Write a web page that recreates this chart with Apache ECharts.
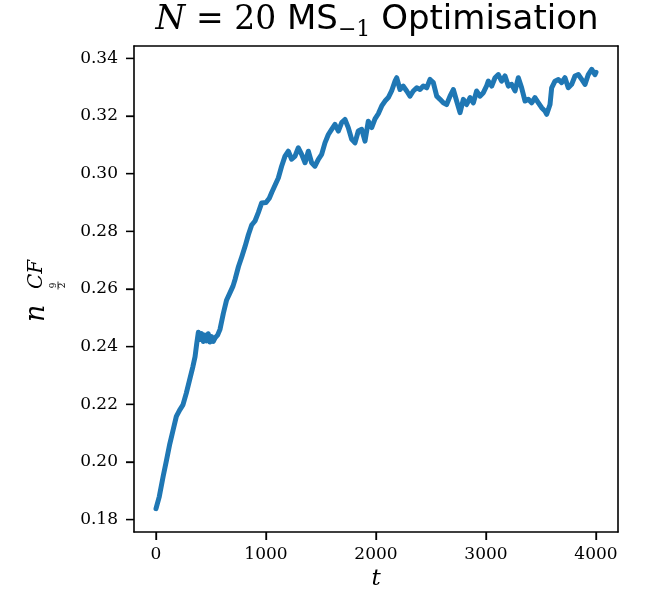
<!DOCTYPE html>
<html>
<head>
<meta charset="utf-8">
<script src="https://cdn.jsdelivr.net/npm/echarts@6/dist/echarts.min.js"></script>
<style>
html,body{margin:0;padding:0;background:#fff;}
#chart{width:651px;height:604px;}
</style>
</head>
<body>
<div id="chart"></div>
<script>
// ---- data ----
const tValues = [0,30,65,95,125,155,185,215,245,275,305,335,355,370,385,400,415,430,445,460,475,490,505,520,540,560,582,612,642,670,700,720,750,780,810,840,870,900,930,960,1000,1030,1052,1082,1112,1142,1173,1203,1233,1264,1294,1324,1355,1385,1415,1445,1476,1506,1536,1567,1597,1627,1658,1688,1718,1748,1779,1809,1839,1870,1900,1930,1961,1991,2021,2052,2082,2112,2142,2173,2188,2218,2248,2279,2309,2339,2370,2400,2430,2461,2491,2521,2552,2582,2612,2642,2673,2703,2733,2764,2794,2824,2855,2885,2915,2945,2976,3006,3021,3052,3082,3112,3142,3173,3203,3233,3264,3294,3324,3355,3385,3415,3445,3476,3506,3536,3552,3582,3597,3627,3658,3688,3718,3748,3779,3809,3839,3870,3900,3930,3961,3991,4000];
const nValues = [0.1838,0.1880,0.1950,0.2005,0.2062,0.2110,0.2158,0.2180,0.2198,0.2238,0.2284,0.2330,0.2365,0.2410,0.2450,0.2425,0.2445,0.2418,0.2440,0.2420,0.2445,0.2416,0.2435,0.2418,0.2432,0.2440,0.2460,0.2515,0.2562,0.2585,0.2610,0.2635,0.2678,0.2712,0.2748,0.2788,0.2822,0.2836,0.2865,0.2898,0.2900,0.2915,0.2935,0.2960,0.2985,0.3026,0.3061,0.3078,0.3050,0.3061,0.3090,0.3067,0.3038,0.3078,0.3038,0.3026,0.3050,0.3067,0.3107,0.3136,0.3154,0.3171,0.3148,0.3177,0.3188,0.3160,0.3119,0.3107,0.3148,0.3154,0.3113,0.3182,0.3160,0.3190,0.3208,0.3235,0.3252,0.3264,0.3287,0.3321,0.3333,0.3292,0.3304,0.3287,0.3269,0.3287,0.3298,0.3292,0.3304,0.3298,0.3327,0.3316,0.3269,0.3258,0.3246,0.3240,0.3269,0.3292,0.3252,0.3212,0.3258,0.3240,0.3264,0.3246,0.3287,0.3269,0.3281,0.3305,0.3321,0.3304,0.3333,0.3344,0.3321,0.3339,0.3304,0.3310,0.3287,0.3333,0.3298,0.3252,0.3258,0.3246,0.3264,0.3246,0.3229,0.3217,0.3206,0.3240,0.3298,0.3321,0.3327,0.3316,0.3333,0.3298,0.3310,0.3339,0.3344,0.3327,0.3310,0.3344,0.3362,0.3344,0.3352];
const xTicks = [0,1000,2000,3000,4000];
const yTicks = [0.18,0.20,0.22,0.24,0.26,0.28,0.30,0.32,0.34];

const SERIF = '"DejaVu Serif", "Liberation Serif", serif';
const SANS = '"DejaVu Sans", "Liberation Sans", sans-serif';
const X_MIN = -200, X_MAX = 4200, Y_MIN = 0.1757, Y_MAX = 0.3443;
const TICK_LEN = 8;

const chart = echarts.init(document.getElementById('chart'), null, {renderer:'canvas'});
const seriesData = tValues.map((t,i)=>[t, nValues[i]]);
const frameLine = () => ({show:true, onZero:false, lineStyle:{color:'#000', width:1.6}});

chart.setOption({
  animation:false,
  backgroundColor:'#fff',
  title:{
    left:372, textAlign:'center', top:-6,
    text:'{a|N} {b|= 20} {c|MS}{d|−1} {c|Optimisation}',
    textStyle:{
      fontSize:34, color:'#000', fontFamily:SERIF, fontWeight:'normal', lineHeight:42,
      rich:{
        a:{fontFamily:SERIF, fontStyle:'italic', fontSize:34, lineHeight:42, color:'#000'},
        b:{fontFamily:SERIF, fontSize:33, lineHeight:42, color:'#000'},
        c:{fontFamily:SANS, fontSize:34, lineHeight:42, color:'#000'},
        d:{fontFamily:SERIF, fontSize:22, lineHeight:22, verticalAlign:'bottom', color:'#000'}
      }
    }
  },
  grid:{left:134, right:33, top:46, bottom:72},
  xAxis:[{
    type:'value', min:X_MIN, max:X_MAX,
    name:'t', nameLocation:'middle', nameGap:30,
    nameTextStyle:{fontFamily:SERIF, fontStyle:'italic', fontSize:23, color:'#000'},
    axisLine:frameLine(),
    axisTick:{show:true, length:TICK_LEN, lineStyle:{color:'#000', width:1.3}, customValues:xTicks},
    axisLabel:{customValues:xTicks, fontFamily:SERIF, fontSize:17, color:'#000', margin:14, formatter:v=>String(v)},
    splitLine:{show:false}
  },{
    type:'value', min:X_MIN, max:X_MAX, position:'top',
    axisLine:frameLine(), axisTick:{show:false}, axisLabel:{show:false}, splitLine:{show:false}
  }],
  yAxis:[{
    type:'value', min:Y_MIN, max:Y_MAX,
    axisLine:frameLine(),
    axisTick:{show:true, length:TICK_LEN, lineStyle:{color:'#000', width:1.3}, customValues:yTicks},
    axisLabel:{customValues:yTicks, fontFamily:SERIF, fontSize:17, color:'#000', margin:16, formatter:v=>v.toFixed(2)},
    splitLine:{show:false}
  },{
    type:'value', min:Y_MIN, max:Y_MAX, position:'right',
    axisLine:frameLine(), axisTick:{show:false}, axisLabel:{show:false}, splitLine:{show:false}
  }],
  graphic:[{
    type:'group', x:44, y:322, rotation:Math.PI/2,
    children:[
      {type:'text', x:0, y:6.5, style:{text:'n', font:'italic 27px "DejaVu Serif"', fill:'#000', verticalAlign:'bottom', align:'left'}},
      {type:'text', x:33, y:3, style:{text:'CF', font:'italic 20px "DejaVu Serif"', fill:'#000', verticalAlign:'bottom', align:'left'}},
      {type:'text', x:36.5, y:10, style:{text:'9', font:'9px "DejaVu Serif"', fill:'#000', verticalAlign:'middle', align:'center'}},
      {type:'line', shape:{x1:32.5, y1:14, x2:40.5, y2:14}, style:{stroke:'#000', lineWidth:0.8}},
      {type:'text', x:36.5, y:18.8, style:{text:'2', font:'9px "DejaVu Serif"', fill:'#000', verticalAlign:'middle', align:'center'}}
    ]
  }],
  series:[{
    type:'line', xAxisIndex:0, yAxisIndex:0, data:seriesData, showSymbol:false, symbol:'none',
    lineStyle:{color:'#1f77b4', width:5, cap:'round', join:'round'},
    clip:true
  },{
    // outward tick marks on the left axis, placed through the axis scale
    type:'custom', xAxisIndex:0, yAxisIndex:0, silent:true, clip:false,
    data: yTicks.map(v=>[X_MIN, v]),
    renderItem:(params, api)=>{
      const p = api.coord([api.value(0), api.value(1)]);
      return {type:'line', shape:{x1:p[0]-TICK_LEN, y1:p[1], x2:p[0], y2:p[1]}, style:{stroke:'#000', lineWidth:1.3}};
    }
  },{
    // outward tick marks on the bottom axis
    type:'custom', xAxisIndex:0, yAxisIndex:0, silent:true, clip:false,
    data: xTicks.map(v=>[v, Y_MIN]),
    renderItem:(params, api)=>{
      const p = api.coord([api.value(0), api.value(1)]);
      return {type:'line', shape:{x1:p[0], y1:p[1], x2:p[0], y2:p[1]+TICK_LEN}, style:{stroke:'#000', lineWidth:1.3}};
    }
  }]
});
</script>
</body>
</html>
